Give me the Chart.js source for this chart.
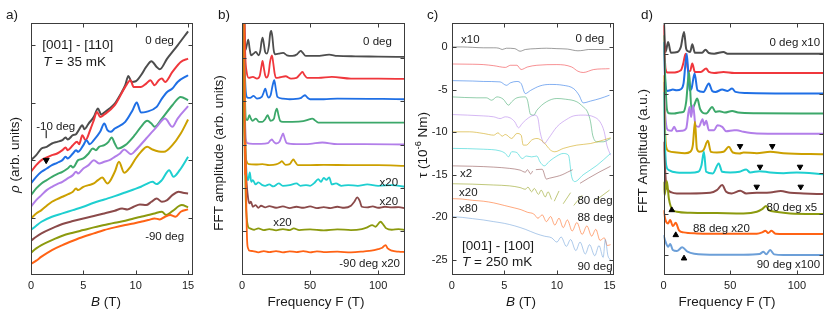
<!DOCTYPE html>
<html>
<head>
<meta charset="utf-8">
<script src="https://cdn.jsdelivr.net/npm/chart.js@4.4.1/dist/chart.umd.min.js"></script>
<style>
  html, body { margin: 0; padding: 0; background: #fff; }
  #wrap { position: relative; width: 830px; height: 316px; }
  canvas { position: absolute; top: 0; }
</style>
</head>
<body>
<div id="wrap">
  <canvas id="pa" width="205" height="316" style="left:0"></canvas>
  <canvas id="pb" width="210" height="316" style="left:205px"></canvas>
  <canvas id="pc" width="205" height="316" style="left:415px"></canvas>
  <canvas id="pd" width="210" height="316" style="left:620px"></canvas>
</div>
<script>
/* a) resistivity vs field, [001]-[110], 0 deg (top) to -90 deg (bottom) */
var aGray = [[0,34],[0.5,35.5],[1,37.5],[1.5,38],[2,39],[2.5,39.5],[3,40],[3.3,40.8],[3.5,40.2],[4,41.5],[4.3,41.8],[4.5,42.7],[4.9,44.5],[5.1,43.3],[5.5,45],[6,47],[6.4,49.5],[6.7,47.7],[7,48.3],[7.5,49.5],[8,51],[8.5,53.5],[9,56.5],[9.3,59.3],[9.6,57.5],[10,57.7],[10.5,59.5],[11,62],[11.5,63.7],[12,62],[12.3,61.3],[13,64.5],[14,68.5],[15,72.7]];
var aRed = [[0,30.5],[0.5,32.5],[1,34],[1.5,34.8],[2,35.5],[2.5,36],[3,37],[3.3,37.8],[3.5,37],[4,38.5],[4.4,39.5],[4.6,38.8],[4.9,41.5],[5.2,40],[5.7,43.5],[6,46],[6.3,48.5],[6.6,47],[7,47.7],[8,50.5],[9,56],[9.5,58],[9.8,56],[10.5,56],[11,57],[11.4,58],[11.8,56.5],[12.2,58],[12.5,58.5],[12.8,57.5],[13.5,60.5],[14.3,63.5],[15,64.5]];
var aBlue = [[0,27],[0.5,29],[1,30.5],[1.5,31.5],[2,32.5],[2.5,33.2],[3,34],[3.3,35],[3.5,34.5],[4,36],[4.3,37],[4.5,36.5],[5,38.5],[5.3,40],[5.6,38.8],[6,40],[6.6,42.5],[7,45],[7.3,43],[7.6,42.5],[8,43.5],[9,45.5],[9.7,49],[10.1,51.3],[10.5,48.3],[11,48.5],[12,50],[12.5,52.5],[13,54.5],[13.5,55.5],[14,57.5],[15,59.5]];
var aGreen = [[0,23.5],[0.5,25.5],[1,27],[1.5,28],[2,29],[2.5,29.8],[3,30.5],[3.5,31.5],[3.8,32.3],[4,31.8],[4.5,34],[5,34.5],[5.5,36],[5.9,37.5],[6.2,37],[6.5,38],[7,38.5],[7.4,39.5],[7.7,40.8],[8,39],[8.3,37.5],[9,38.5],[9.9,41.5],[10.5,44],[11.1,45.8],[11.5,45],[11.8,44],[12.5,46.5],[13.5,50.5],[14.3,53],[15,52]];
var aPurple = [[0,20],[0.5,22],[1,23.5],[1.5,25],[2,26],[2.5,26.8],[3,27.5],[3.5,28.5],[4,29.5],[4.3,30.5],[4.5,30],[5,31.5],[5.5,32.5],[6,34],[6.5,33],[7,33.5],[7.5,34],[8,35],[8.5,36],[8.9,37.2],[9.55,35.8],[10,37],[11,40.5],[12,44],[12.8,46.5],[13.5,44],[14,46.5],[15,50.2]];
var aGold = [[0,16.5],[0.5,18],[1,19],[1.5,20.3],[2,21.5],[2.5,22.3],[3,23],[3.5,23.7],[4,24.5],[4.3,25.5],[4.5,25],[5,26],[5.5,26.5],[6,27],[6.4,28],[6.8,28.8],[7.3,27],[8,30.5],[8.4,33.5],[8.9,30.2],[9.5,32],[10,34.5],[10.5,36.5],[11.1,38],[11.6,37.2],[12.2,36.6],[12.7,36.5],[13.5,38.5],[14.3,42],[15,46.2]];
var aCyan = [[0,13],[0.5,14.3],[1,15.5],[2,17],[3,18],[4,19],[5,20],[6,21.2],[7,22.2],[8,23.2],[9,24.3],[9.8,25.2],[10.5,26],[11,26.8],[11.6,27.5],[12,26.8],[12.5,28],[13.2,31],[13.6,29],[14.2,31],[15,35]];
var aBrown = [[0,9.8],[0.5,11],[1,12],[2,13.5],[3,14.8],[4,15.7],[5,16.5],[6,17.2],[7,18],[8,18.8],[8.7,19.5],[9.2,19.2],[9.8,20],[10.4,20.7],[11,20.5],[11.5,21.5],[12,22.5],[12.5,21.5],[13,22],[13.5,23.5],[14.1,24.5],[14.5,24.2],[15,24]];
var aOlive = [[0,6.2],[0.5,7.5],[1,8.5],[2,10],[3,11.3],[4,12.2],[5,13],[6,13.8],[7,14.5],[8,15.2],[9,15.8],[9.8,16.5],[10.5,17],[11.2,17.5],[11.8,18],[12.5,18.5],[12.9,17.5],[13.5,18.7],[14.4,20.5],[15,19.8]];
var aOrange = [[0,2.8],[0.5,3.8],[1,5],[2,7],[3,8.5],[4,9.8],[5,11],[6,12],[7,13],[8,13.8],[9,14.5],[9.8,15],[10.5,15.5],[11.2,16],[11.8,16.5],[12.3,16.2],[12.8,17],[13.3,17.5],[13.8,17],[14.3,18.5],[15,19.2]];
var aDash = [[1.45,41.8]];
var aArrow = [[1.45,34]];
var aYTicks = [16.7, 34, 51.3, 68.7];

/* b) FFT of a) */
var bGray = [[0,95],[1.2,90],[2.4,67.5],[3.5,69],[4.6,70.7],[5.6,68],[6.6,66],[8.5,66.5],[10.2,67],[12.2,66],[13.5,67.5],[14.3,70],[15.1,71.3],[16,69.5],[17,67],[18.3,66.5],[19.8,69],[20.7,72.5],[21.5,73.3],[22.3,71.5],[23.3,67.5],[24.4,66.3],[27,66.5],[30.2,66.7],[33,66],[37,65.8],[40.5,66.3],[42,67],[43.2,67.3],[44.5,66.8],[46.8,65.8],[55,65.8],[64,66.2],[70,65.8],[83.4,65.7],[100,65.6],[120,65.5]];
var bRed = [[0,90],[1.2,85],[2.5,65],[3.4,61],[5,59.2],[8,59.5],[11,59],[13,59.8],[14.2,62.5],[15.1,64.3],[16,62.3],[17,60],[18,59.3],[19.5,60.5],[20.6,64],[22,66],[23,63.5],[24,60.5],[25,59.2],[28,59.4],[32,59.7],[36,59],[40,59.2],[43,60.5],[44.4,61],[46,60],[48,59.2],[56,59.2],[66,59.5],[80,59],[100,59],[120,58.9]];
var bBlue = [[0,57],[0.7,85],[1.8,65],[2.8,55],[4,53.3],[6,53.2],[8.5,53.8],[11,53],[14.5,53.5],[15.7,54.6],[17.1,56],[18.5,54],[19.5,53.3],[21,54],[22.5,57],[23.7,58.5],[24.8,56],[26,53.5],[30,53],[35,52.8],[43,53.1],[44.8,53.7],[46.3,54],[48,53.3],[50,52.8],[60,52.8],[70,53],[120,52.8]];
var bGreen = [[0,46],[0.5,85],[1.8,60],[2.8,47],[4,46.5],[5.4,48],[6.5,47],[7.8,46.3],[10.2,47],[12.5,46],[15,46],[17,46.8],[18.8,48],[20,47],[21,46.3],[23.5,47],[24.4,48.7],[25.6,50],[26.8,48],[28,46.3],[30,46],[37,46],[45,46.2],[50,46.8],[51.7,47],[53.5,46.5],[56,45.8],[70,45.8],[120,45.8]];
var bPurple = [[0,40],[0.6,85],[1.8,55],[2.8,41],[4,39.6],[8,39.4],[14,39.4],[19,39.6],[20.8,40.4],[22,40.7],[23.2,40.1],[25,39.5],[27.5,40],[29,41.5],[30.2,42.5],[31.4,41],[32.8,39.6],[40,39.3],[50,39.4],[59,39.8],[70,39.3],[90,39.3],[120,39.2]];
var bGold = [[0,33.5],[0.6,85],[1.8,60],[2.5,38],[3.5,34],[5,33.3],[10,33.2],[15,33.3],[20,33],[25,33.2],[28,33.8],[29.3,34.2],[30.6,33.6],[32,33.1],[35,33.3],[36.6,34.2],[37.8,34.7],[39,34],[41,33],[50,33],[60,33.1],[80,33],[100,33],[120,32.8]];
var bCyan = [[0,85],[2,45],[3.5,30],[4.5,28.5],[5.7,30.8],[6.8,28],[8,28.5],[10,27.2],[12,27.8],[15,27],[17,26.8],[20,27.2],[23,26.6],[27,27.5],[30,26.8],[35,27],[40,27.5],[43,26.8],[47,27],[50,26.8],[53,27.6],[56,28.8],[58,28],[60,29.2],[62,28.6],[64,29.3],[66,27.2],[69,27.5],[73,26.8],[78,27],[85,26.8],[92,27.2],[100,26.8],[110,27],[120,26.5]];
var bBrown = [[0,85],[2,40],[3,30],[4.5,23],[5.5,21.5],[6.5,22],[8,20.5],[10,21],[12,20.2],[14,20.8],[17,20.3],[20,20.7],[25,20.2],[30,20.6],[35,20.1],[40,20.5],[45,20.2],[50,20.6],[55,20.1],[60,20.4],[65,20.1],[70,20.5],[75,20.2],[80,20.8],[82.5,22],[84.6,23.3],[86.5,22.2],[88,20.5],[92,20.3],[96,20.6],[100,20.2],[105,20.5],[110,20.3],[115,20.4],[120,20]];
var bOlive = [[0,85],[1.8,40],[2.8,22],[3.5,17],[4.5,14.5],[6,14],[9,13.6],[12,14],[16,13.5],[20,13.8],[25,13.4],[30,13.8],[35,13.5],[38,14],[42,13.5],[50,13.7],[60,13.4],[70,13.7],[80,13.5],[88,13.8],[92,14.3],[95.6,15],[98,14.5],[101.7,16],[104,15],[106,14],[110,13.6],[115,13.8],[120,13.5]];
var bOrange = [[0,90],[1.5,90],[2.2,30],[2.6,40],[3.2,20],[3.8,10],[4.5,8],[5.5,7.3],[8,7.2],[12,6.8],[16,7.2],[20,6.9],[25,7.2],[30,6.8],[35,7.1],[40,6.9],[45,7.2],[50,6.8],[55,7.1],[60,6.9],[70,7],[80,6.8],[90,7.1],[95,7.3],[100,7.8],[103,8.2],[105.4,9],[107,8],[110,7.3],[115,7],[120,6.9]];
var bYTicks = [13.2, 26.2, 39.2, 52.2, 65.2];

/* c) torque, [001]-[100], 0 deg (top) to 90 deg (bottom) */
var cGray = [[0,0],[1,0],[2,-0.05],[3,-0.1],[4,-0.1],[4.5,-0.15],[4.8,-0.3],[5.2,-0.15],[6,-0.2],[6.5,-0.5],[7,-0.3],[8,-0.2],[9,-0.15],[10,-0.2],[11,-0.25],[12,-0.45],[12.5,-0.4],[13,-0.3],[14,-0.3],[15,-0.3]];
var cRed = [[0,-2],[2,-2.03],[3,-2.07],[4,-2.2],[5.1,-2.4],[5.6,-2.15],[6.2,-2.15],[6.6,-2.65],[7.2,-2.35],[8.1,-2.15],[10,-2.07],[11.4,-2.35],[12,-2.85],[12.5,-3.0],[13.5,-2.65],[15,-2.55]];
var cBlue = [[0,-3.95],[2,-4.0],[3,-4.05],[4.6,-4.1],[5.2,-4.5],[5.6,-4.2],[6.2,-4.05],[6.6,-4.3],[7,-5.47],[7.5,-5.1],[8.4,-4.57],[9.3,-4.4],[10.6,-4.5],[11.6,-4.9],[12.1,-5.65],[12.5,-6.56],[13.2,-6.35],[14.1,-6.05],[15,-5.66]];
var cGreen = [[0,-5.86],[2.4,-5.97],[3.3,-5.97],[3.8,-6.25],[4.3,-5.86],[4.9,-6.13],[5.4,-6.83],[5.7,-6.44],[6.2,-5.97],[7,-5.86],[7.2,-6.25],[7.5,-7.93],[7.8,-8.0],[8.1,-7.42],[9,-6.44],[10,-6.05],[10.8,-6.13],[11.9,-6.44],[12.5,-7.03],[12.9,-7.6],[13.2,-8.79],[13.4,-10.35],[13.8,-11.13],[14.4,-11.13],[15.1,-10.74]];
var cPurple = [[0,-7.93],[3,-8.09],[4,-8.2],[4.6,-8.4],[5.1,-8.2],[5.55,-8.32],[6,-8.79],[6.35,-9.49],[6.7,-8.98],[7.3,-8.32],[7.9,-8.0],[8.2,-8.4],[8.4,-9.96],[8.8,-11.33],[9.2,-10.74],[10,-9.37],[10.95,-8.48],[11.6,-8.09],[12.5,-8.0],[13.5,-8.2],[14.1,-8.79],[14.5,-9.96],[14.75,-11.52],[15.1,-12.7]];
var cGold = [[0,-9.96],[1.7,-9.96],[3,-10.15],[4,-10.35],[4.4,-10.08],[4.8,-10.47],[5.1,-10.27],[5.7,-10.74],[6.2,-10.15],[6.6,-10.35],[6.8,-11.52],[7.1,-11.52],[7.6,-10.93],[8.1,-10.74],[8.7,-11.13],[9.4,-12.11],[9.8,-12.3],[10.6,-11.91],[11.9,-11.52],[13.2,-11.33],[14.4,-10.93],[15.1,-10.66]];
var cCyan = [[0,-11.9],[3,-12.0],[4.6,-12.2],[5.1,-12.5],[5.4,-12.9],[5.7,-12.3],[6.2,-12.4],[6.7,-13.1],[7.1,-12.8],[7.6,-12.9],[8.1,-12.8],[8.4,-13.5],[8.8,-13.95],[9.3,-13.4],[10,-12.8],[10.6,-12.5],[11.1,-12.7],[11.4,-15.2],[11.7,-15.8],[12.5,-15.0],[13.8,-13.9],[15.1,-12.5]];
var cBrown = [[0,-13.95],[2,-14.0],[4,-14.1],[5.5,-14.25],[6.5,-14.45],[7,-14.7],[7.2,-14.4],[7.5,-14.9],[7.7,-14.55],[7.85,null],[8,-14.4],[8.6,-14.35],[9,-15.5],[9.3,-15.4],[10,-15.2],[10.5,-15.0],[11,-14.7],[11.5,-14.4],[11.85,null],[12.2,-16.0],[13,-15.4],[14,-14.7],[15.1,-14.0]];
var cOlive = [[0,-16.05],[2,-16.1],[4,-16.2],[5.5,-16.3],[6.5,-16.5],[7,-16.7],[7.25,-16.45],[7.6,-17.0],[7.85,-16.6],[8.25,-17.3],[8.5,-16.8],[8.9,-17.6],[9.15,-17.0],[9.5,-17.9],[9.6,null],[9.75,-18.1],[10.2,-16.9],[10.4,null],[10.6,-18.4],[11.3,-17.1],[11.45,null],[11.6,-18.6],[12.4,-17.4],[13,null],[13.7,-18.0],[15,-16.8]];
var cOrange = [[0,-17.8],[1,-17.85],[2,-18.0],[3,-18.1],[4,-18.3],[5,-18.6],[6,-18.9],[6.6,-19.1],[7.2,-19.4],[7.8,-19.6],[8.2,-20.1],[8.6,-19.7],[9,-20.5],[9.4,-19.9],[9.8,-20.9],[10.2,-20.1],[10.6,-21.2],[11,-20.3],[11.45,-21.6],[11.9,-20.6],[12.4,-22.0],[12.85,-21.0],[13.3,-22.2],[13.7,-21.4],[14.1,-22.7],[14.5,-22.4],[14.8,-23.3],[15.1,-23.2]];
var cSteel = [[0,-19.9],[1,-20.0],[2,-20.15],[3,-20.3],[4,-20.5],[5,-20.7],[6,-21.0],[7,-21.4],[8,-21.9],[8.8,-22.2],[9.5,-22.4],[10,-22.9],[10.4,-22.3],[10.9,-23.4],[11.3,-22.6],[11.8,-23.9],[12.2,-22.9],[12.7,-24.3],[13.1,-23.2],[13.6,-24.5],[14,-23.3],[14.4,-24.7],[14.6,-22.6],[14.85,-24.5],[15.1,-25.0]];

/* d) FFT of c) */
var dGray = [[0,80],[1.5,67],[3.5,70],[5.5,66.8],[10.5,67],[13,68.5],[15.4,73],[17,68],[18.5,67.2],[20,67],[21.6,69.3],[23.5,66.8],[29,66.8],[31.5,67.7],[34,66.7],[38,66.5],[45,67],[48,66.5],[60,66.5],[80,66.5],[120,66.5]];
var dRed = [[0,75],[1.5,62],[3,60.8],[6.5,60.8],[13,61.5],[14.8,63.5],[16.6,66.5],[18.5,61.2],[20,61.3],[21.6,63.5],[23.5,61],[28,61],[32,62],[34,61],[38,60.7],[45,61],[53,60.7],[70,60.7],[120,60.7]];
var dBlue = [[0,70],[1.5,57],[3,55.3],[5,55.5],[7,55.7],[10,55.5],[13,55.8],[15,57.5],[17.5,66.5],[19.5,55.5],[21,56],[23.3,60.5],[25.5,55.5],[30,55],[34,57.5],[36.5,55.3],[39,55],[44,55.7],[48,55.3],[51.4,56],[54,55],[62,54.7],[120,54.5]];
var dGreen = [[0,72],[1,62],[2.5,50],[4,48.6],[8,48.5],[12,48.8],[15,49],[17,52],[19.2,61],[21,49.5],[23,51],[25.3,53],[27.5,49.8],[32,48.5],[36.5,50.5],[39,49],[42,49.2],[46,48.8],[51.5,49.3],[56,48.8],[70,48.6],[120,48.5]];
var dPurple = [[0,58],[1,50],[2,45],[3.5,43.5],[6,43.3],[8,44.5],[10,43.2],[14,43.3],[17,44],[19.5,50.5],[20.7,47.5],[22.2,51],[24,45],[26.5,44.5],[29.3,46.8],[30.5,45],[32,46.3],[34,43.5],[38,43.5],[40.5,45],[44,44.5],[47,43.2],[53,43.5],[55,43.5],[60,43],[70,42.5],[120,42.4]];
var dGold = [[0,60],[1,45],[2,38.5],[4,37.2],[10,36.8],[16,36.6],[20,37],[22,39],[23.6,46],[25,38],[27,37],[30,37.5],[33.3,40.3],[35.5,37],[40,36.8],[45,37],[49,38.5],[52,36.8],[57,36.5],[60,36.8],[70,36.6],[80,37],[90,36.6],[120,36.3]];
var dCyan = [[0,55],[1,40],[2,33],[4,31.5],[10,30.8],[20,30.7],[26,31],[28.5,33],[30.3,37],[32,31],[37,30.5],[41.4,33.5],[44,31],[50,30.8],[57,31],[62,31.7],[65,30.8],[72,31.2],[80,30.8],[90,30.6],[100,30.8],[120,30.3]];
var dBrown = [[0,40],[1,33],[2,27],[3.5,25.5],[6,24.8],[10,24.5],[20,24.5],[35,24.7],[40,25.5],[44,27],[47,25],[51,24.5],[57.6,25.3],[62,24.5],[70,24.7],[80,24.8],[88,25.2],[95,24.7],[105,24.5],[120,24.3]];
var dOlive = [[0,28],[0.8,24],[2.5,28.2],[4,23],[5.5,20.5],[7,19.5],[10,19],[20,18.7],[40,18.6],[60,18.5],[70,19],[74,19.8],[77,20.7],[79,19.5],[84,19],[95,18.5],[120,18.3]];
var dOrange = [[0,19.5],[1.5,16.5],[3.5,15.5],[5,16.5],[7,14.7],[9.2,15.7],[11.5,13.5],[15,12.8],[25,12.5],[50,12.4],[70,12.4],[74,12.8],[76.5,13.3],[78.5,12.6],[81,13.3],[84,12.4],[100,12.3],[120,12.3]];
var dSteel = [[0,12],[1.5,10],[3.5,8.5],[5,9.3],[7,7.5],[10,7.2],[14,8.3],[18,7],[23,6.4],[40,6.1],[60,6.1],[72,6.3],[75,7],[77,6.2],[80,7.5],[83,6.2],[90,6],[120,6]];
var dDown = [[57.4,38.7],[81.6,38.7],[72.4,32.5],[102.4,32.5],[69.9,26.5],[102.9,26.5]];
var dUp = [[6.2,19.5],[9.2,12],[15.4,5]];
var dYTicks = [6, 18.3, 30.5, 42.5, 54.5, 66.5];

var FONT = '"Liberation Sans", Arial, Helvetica, sans-serif';
var INK = '#1a1a1a';
var COL = {
  gray: [77,77,77], red: [240,55,60], blue: [31,111,229], green: [60,168,106],
  purple: [178,126,233], gold: [204,160,0], cyan: [30,207,208], brown: [139,74,74],
  olive: [140,154,14], orange: [255,99,21], steel: [108,159,216]
};
var ORDER = ['gray','red','blue','green','purple','gold','cyan','brown','olive','orange','steel'];

function rgba(c, a) { return 'rgba(' + c[0] + ',' + c[1] + ',' + c[2] + ',' + a + ')'; }

/* draw text made of styled pieces: {t, i: italic, sup: superscript} */
function richText(ctx, segs, x, y, align, size, rot) {
  if (typeof segs === 'string') segs = [{ t: segs }];
  function fontOf(s) { return (s.i ? 'italic ' : '') + (s.sup ? size * 0.68 : size) + 'px ' + FONT; }
  var w = 0;
  segs.forEach(function (s) { ctx.font = fontOf(s); w += ctx.measureText(s.t).width; });
  ctx.save();
  ctx.translate(x, y);
  if (rot) ctx.rotate(rot);
  var cx = align === 'left' ? 0 : align === 'right' ? -w : -w / 2;
  ctx.textAlign = 'left';
  ctx.textBaseline = 'middle';
  segs.forEach(function (s) {
    ctx.font = fontOf(s);
    ctx.fillText(s.t, cx, s.sup ? -size * 0.35 : 0);
    cx += ctx.measureText(s.t).width;
  });
  ctx.restore();
}

/* frame with inward ticks on all sides, in-plot notes, axis titles, panel tag */
function decor(o) {
  return {
    id: 'decor',
    afterDraw: function (chart) {
      var ctx = chart.ctx, a = chart.chartArea, x = chart.scales.x, y = chart.scales.y;
      var L = Math.round(a.left) + 0.5, R = Math.round(a.right) - 0.5;
      var T = Math.round(a.top) + 0.5, B = Math.round(a.bottom) - 0.5;
      ctx.save();
      ctx.strokeStyle = '#3c3c3c';
      ctx.lineWidth = 1;
      ctx.strokeRect(L, T, R - L, B - T);
      ctx.beginPath();
      x.ticks.forEach(function (t) {
        var p = Math.round(x.getPixelForValue(t.value)) + 0.5;
        ctx.moveTo(p, B); ctx.lineTo(p, B - 4);
        ctx.moveTo(p, T); ctx.lineTo(p, T + 4);
      });
      y.ticks.forEach(function (t) {
        var p = Math.round(y.getPixelForValue(t.value)) + 0.5;
        ctx.moveTo(L, p); ctx.lineTo(L + 4, p);
        ctx.moveTo(R, p); ctx.lineTo(R - 4, p);
      });
      ctx.stroke();
      ctx.fillStyle = INK;
      o.notes.forEach(function (n) {
        richText(ctx, n.t, x.getPixelForValue(n.x), y.getPixelForValue(n.y), n.align || 'left', n.size || 11.5);
      });
      richText(ctx, o.xTitle, o.xTitleX, 302, 'center', 13.5);
      richText(ctx, o.yTitle, o.yTitleX, o.yTitleY, 'center', 13.5, -Math.PI / 2);
      richText(ctx, o.tag, o.tagX, 15, 'left', 13.5);
      ctx.restore();
    }
  };
}

function curves(list, width, alpha) {
  return list.map(function (d, i) {
    return {
      data: d, borderColor: rgba(COL[ORDER[i]], alpha), borderWidth: width,
      pointRadius: 0, cubicInterpolationMode: 'monotone', spanGaps: false,
      fill: false, clip: 0, order: list.length - i
    };
  });
}

function markers(d, style, rot, r) {
  return {
    type: 'scatter', data: d, showLine: false, pointStyle: style, rotation: rot,
    pointRadius: r, backgroundColor: '#000', borderColor: '#000', borderWidth: 1, order: -1
  };
}

function panel(id, p) {
  var yOpts = {
    type: 'linear', min: p.y[0], max: p.y[1],
    grid: { display: false, drawTicks: false }, border: { display: false },
    ticks: { display: !!p.yLabels, stepSize: p.yStep, includeBounds: false, padding: 4, color: INK, font: { size: 11, family: FONT } },
    afterFit: function (s) { s.width = p.yWidth; }
  };
  if (p.yTicks) yOpts.afterBuildTicks = function (s) { s.ticks = p.yTicks.map(function (v) { return { value: v }; }); };
  return new Chart(document.getElementById(id), {
    type: 'line',
    data: { datasets: p.sets },
    options: {
      responsive: false, animation: false, events: [], devicePixelRatio: 1,
      layout: { padding: { left: 0, right: p.padRight, top: 23, bottom: 0 } },
      plugins: { legend: { display: false }, tooltip: { enabled: false } },
      scales: {
        x: {
          type: 'linear', min: p.x[0], max: p.x[1],
          grid: { display: false, drawTicks: false }, border: { display: false },
          ticks: { stepSize: p.xStep, includeBounds: false, padding: 4, maxRotation: 0, autoSkip: false, color: INK, font: { size: 11, family: FONT } },
          afterFit: function (s) { s.height = 41; }
        },
        y: yOpts
      }
    },
    plugins: [decor(p.decor)]
  });
}

panel('pa', {
  x: [0, 15.47], xStep: 5, y: [-0.5, 75.2], yTicks: aYTicks, yWidth: 31, padRight: 12,
  sets: curves([aGray, aRed, aBlue, aGreen, aPurple, aGold, aCyan, aBrown, aOlive, aOrange], 2, 1)
    .concat([markers(aDash, 'line', 90, 4), markers(aArrow, 'triangle', 180, 3.5)]),
  decor: {
    tag: 'a)', tagX: 6,
    xTitle: [{ t: 'B', i: true }, { t: ' (T)' }], xTitleX: 106,
    yTitle: [{ t: 'ρ', i: true }, { t: ' (arb. units)' }], yTitleX: 15, yTitleY: 155,
    notes: [
      { t: '[001] - [110]', x: 1.07, y: 68.5, size: 13.5 },
      { t: [{ t: 'T', i: true }, { t: ' = 35 mK' }], x: 1.17, y: 63.4, size: 13.5 },
      { t: '0 deg', x: 10.9, y: 69.7 },
      { t: '-10 deg', x: 0.5, y: 43.9 },
      { t: '-90 deg', x: 10.9, y: 10.9 }
    ]
  }
});

panel('pb', {
  x: [0, 119.7], xStep: 50, y: [0, 75.7], yTicks: bYTicks, yWidth: 37, padRight: 10,
  sets: curves([bGray, bRed, bBlue, bGreen, bPurple, bGold, bCyan, bBrown, bOlive, bOrange], 1.8, 1),
  decor: {
    tag: 'b)', tagX: 13,
    xTitle: 'Frequency F (T)', xTitleX: 111,
    yTitle: 'FFT amplitude (arb. units)', yTitleX: 14, yTitleY: 153,
    notes: [
      { t: '0 deg', x: 88.9, y: 69.9 },
      { t: 'x20', x: 114.6, y: 27.6, align: 'right' },
      { t: 'x20', x: 114.6, y: 21.9, align: 'right' },
      { t: 'x20', x: 22.9, y: 15.6 },
      { t: '-90 deg x20', x: 116, y: 3.3, align: 'right' }
    ]
  }
});

panel('pc', {
  x: [0, 15.38], xStep: 5, y: [-26.76, 2.81], yStep: 5, yLabels: true, yWidth: 36.7, padRight: 6.5,
  sets: curves([cGray, cRed, cBlue, cGreen, cPurple, cGold, cCyan, cBrown, cOlive, cOrange, cSteel], 1, 0.55),
  decor: {
    tag: 'c)', tagX: 12,
    xTitle: [{ t: 'B', i: true }, { t: ' (T)' }], xTitleX: 106,
    yTitle: [{ t: 'τ (10' }, { t: '-6', sup: true }, { t: ' Nm)' }], yTitleX: 8, yTitleY: 145,
    notes: [
      { t: 'x10', x: 0.89, y: 0.79 },
      { t: '0 deg', x: 14.5, y: 0.9, align: 'right' },
      { t: 'x2', x: 0.79, y: -14.9 },
      { t: 'x20', x: 0.7, y: -17.1 },
      { t: 'x80', x: 0.7, y: -19.0 },
      { t: '80 deg', x: 15.29, y: -18.1, align: 'right' },
      { t: '88 deg', x: 15.29, y: -20.0, align: 'right' },
      { t: '90 deg', x: 15.29, y: -25.8, align: 'right' },
      { t: '[001] - [100]', x: 0.98, y: -23.4, size: 13.5 },
      { t: [{ t: 'T', i: true }, { t: ' = 250 mK' }], x: 0.98, y: -25.3, size: 13.5 }
    ]
  }
});

panel('pd', {
  x: [0, 120], xStep: 50, y: [0, 75.7], yTicks: dYTicks, yWidth: 43.5, padRight: 6.5,
  sets: curves([dGray, dRed, dBlue, dGreen, dPurple, dGold, dCyan, dBrown, dOlive, dOrange, dSteel], 2, 1)
    .concat([markers(dDown, 'triangle', 180, 3.2), markers(dUp, 'triangle', 0, 3.2)]),
  decor: {
    tag: 'd)', tagX: 21,
    xTitle: 'Frequency F (T)', xTitleX: 107,
    yTitle: 'FFT Amplitude (a.u.)', yTitleX: 23, yTitleY: 151,
    notes: [
      { t: '0 deg x10', x: 117.4, y: 69.6, align: 'right' },
      { t: '80 deg x5', x: 115.2, y: 20.1, align: 'right' },
      { t: '88 deg x20', x: 22.1, y: 13.8 },
      { t: '90 deg x100', x: 117.4, y: 3, align: 'right' }
    ]
  }
});
</script>
</body>
</html>
